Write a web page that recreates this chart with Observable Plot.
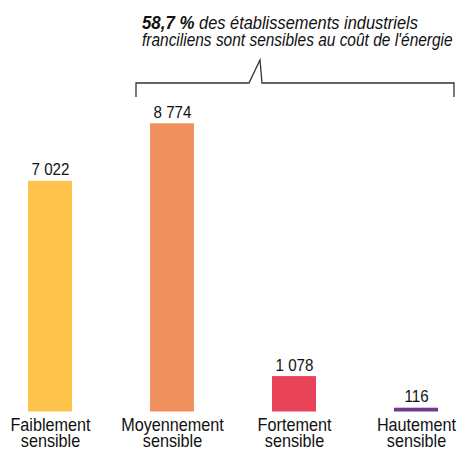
<!DOCTYPE html>
<html><head><meta charset="utf-8">
<script src="https://cdn.jsdelivr.net/npm/d3@7"></script>
<script src="https://cdn.jsdelivr.net/npm/@observablehq/plot@0.6"></script>
<style>
body{margin:0;background:#fff;}
#chart{position:relative;width:457px;height:450px;}
</style></head>
<body><div id="chart"></div>
<script>
const categories = ["Faiblement sensible", "Moyennement sensible", "Fortement sensible", "Hautement sensible"];
const values = [7022, 8774, 1078, 116];
const colors = ["#FDC34B", "#F0915E", "#E84359", "#6E3A8C"];
const titleBold = "58,7 %";
const titleRest = " des établissements industriels";
const titleLine2 = "franciliens sont sensibles au coût de l'énergie";

const FONT = "'Liberation Sans', Arial, Helvetica, sans-serif";
const data = categories.map((c, i) => ({cat: c, value: values[i], color: colors[i]}));
const fmt = d3.formatLocale({decimal: ",", thousands: " ", grouping: [3], currency: ["", "€"]}).format(",d");

const plot = Plot.plot({
  width: 457, height: 450,
  style: {fontFamily: FONT, background: "#fff", color: "#111"},
  x: {domain: categories, range: [26.7, 439], padding: 0.642, paddingOuter: 0, axis: null},
  y: {domain: [0, 8774], range: [411.5, 123.3], axis: null},
  marks: [
    Plot.barY(data, {x: "cat", y: "value", fill: "color"}),
    Plot.text(data, {x: "cat", y: "value", text: d => fmt(d.value), lineAnchor: "bottom", dy: -6, fontSize: 16.5, fill: "#111", className: "cond-v"}),
    Plot.text(data, {x: "cat", y: 0, text: d => d.cat.replace(" ", "\n"), lineAnchor: "top", dy: 8.4, fontSize: 18, lineHeight: 0.867, fill: "#111", className: "cond-c"})
  ]
});
document.getElementById("chart").appendChild(plot);

// condensed type: squeeze each label horizontally around its anchor
function condense(sel, s) {
  d3.select(plot).selectAll(sel).each(function() {
    const el = d3.select(this);
    const tr = el.attr("transform");
    if (tr) {
      el.attr("transform", tr + ` scale(${s},1)`);
    } else {
      const x = +el.attr("x") || 0, y = +el.attr("y") || 0;
      el.attr("x", null).attr("y", null).attr("transform", `translate(${x},${y}) scale(${s},1)`);
    }
  });
}
condense("g.cond-v text", 0.92);
condense("g.cond-c text", 0.9);

// annotation bracket over the "sensible" groups
const svg = d3.select(plot);
const xs = plot.scale("x");
const bw = xs.bandwidth;
const left = xs.apply(categories[1]) - 14;
const right = xs.apply(categories[3]) + bw + 16;
const yb = 83, yt = 97, peakX = 260;
svg.append("path")
  .attr("d", `M${left},${yt}V${yb}H${peakX - 11}L${peakX},60L${peakX + 2},${yb}H${right}V${yt}`)
  .attr("fill", "none").attr("stroke", "#333").attr("stroke-width", 1.3);

function titleLine(y, targetWidth, build) {
  const g = svg.append("g");
  const t = g.append("text").attr("x", 0).attr("y", 0).attr("text-anchor", "start")
    .attr("font-family", FONT).attr("font-style", "italic").attr("font-size", 18).attr("fill", "#111");
  build(t);
  const w = t.node().getComputedTextLength();
  g.attr("transform", `translate(142,${y}) scale(${targetWidth / w},1)`);
}
titleLine(29.3, 276, t => {
  t.append("tspan").attr("font-weight", "bold").attr("font-size", 18.5).text(titleBold);
  t.append("tspan").text(titleRest);
});
titleLine(46, 311, t => t.text(titleLine2));
</script></body></html>
